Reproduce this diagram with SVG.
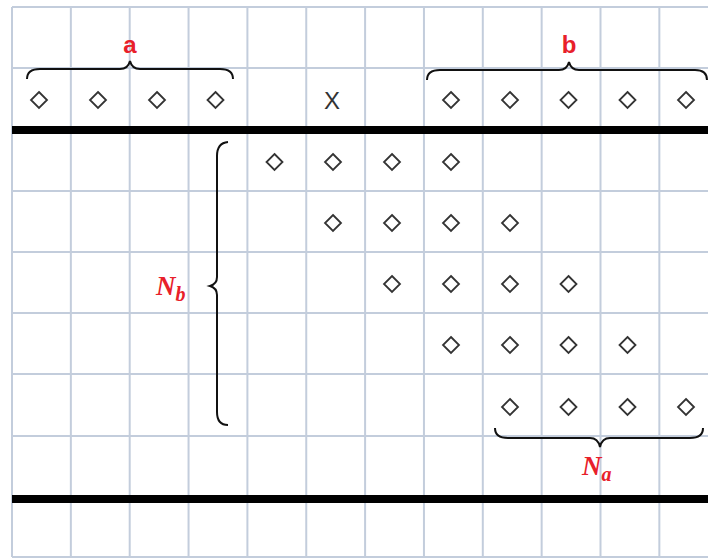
<svg xmlns="http://www.w3.org/2000/svg" width="708" height="559" viewBox="0 0 708 559">
<style>
.grid{stroke:#c3cddc;stroke-width:2;fill:none}
.thick{stroke:#000;stroke-width:8}
.brace{stroke:#111;stroke-width:2;fill:none}
.dia{stroke:#333;stroke-width:1.8;fill:none}
.lbl{fill:#e8202a;font-family:"Liberation Sans",Arial,sans-serif;font-weight:bold;font-size:24px;text-anchor:middle}
.math{fill:#e8202a;font-family:"Liberation Serif","Times New Roman",serif;font-weight:bold;font-style:italic}
.x{fill:#333;font-family:"Liberation Sans",Arial,sans-serif;font-size:24px;text-anchor:middle}
</style>
<defs>
<path id="d" class="dia" d="M0,-8 L8,0 L0,8 L-8,0 Z"/>
</defs>
<rect width="708" height="559" fill="#fff"/>
<g id="grid">
<path class="grid" d="M12,7V557M70.85,7V557M129.7,7V557M188.55,7V557M247.4,7V557M306.25,7V557M365.1,7V557M423.95,7V557M482.8,7V557M541.65,7V557M600.5,7V557M659.35,7V557"/>
<path class="grid" d="M12,7H708M12,68H708M12,191H708M12,252H708M12,313H708M12,374H708M12,436H708M12,557H708"/>
<path class="thick" d="M12,130H708M12,499H708"/>
</g>
<g id="row1">
<use href="#d" x="39" y="100"/><use href="#d" x="98" y="100"/><use href="#d" x="157" y="100"/><use href="#d" x="215.5" y="100"/>
<text class="x" x="332" y="109">X</text>
<use href="#d" x="451" y="100"/><use href="#d" x="510" y="100"/><use href="#d" x="568.5" y="100"/><use href="#d" x="627.5" y="100"/><use href="#d" x="686" y="100"/>
</g>
<g id="rows">
<use href="#d" x="274.5" y="162"/><use href="#d" x="333" y="162"/><use href="#d" x="392" y="162"/><use href="#d" x="451" y="162"/>
<use href="#d" x="333" y="223"/><use href="#d" x="392" y="223"/><use href="#d" x="451" y="223"/><use href="#d" x="510" y="223"/>
<use href="#d" x="392" y="284"/><use href="#d" x="451" y="284"/><use href="#d" x="510" y="284"/><use href="#d" x="568.5" y="284"/>
<use href="#d" x="451" y="345"/><use href="#d" x="510" y="345"/><use href="#d" x="568.5" y="345"/><use href="#d" x="627.5" y="345"/>
<use href="#d" x="510" y="407"/><use href="#d" x="568.5" y="407"/><use href="#d" x="627.5" y="407"/><use href="#d" x="686" y="407"/>
</g>
<g id="braces">
<path class="brace" d="M27,79 Q27,69 40,69 L120,69 Q128,69 130,61 Q132,69 140,69 L220,69 Q233,69 233,79"/>
<path class="brace" d="M427,80 Q427,70 440,70 L559,70 Q567,70 569,62 Q571,70 579,70 L695,70 Q707,70 707,80"/>
<path class="brace" d="M495,428 Q495,438 508,438 L590,438 Q598,438 600,447 Q602,438 610,438 L690,438 Q703,438 703,428"/>
<path class="brace" d="M228,142 Q217,143 217,156 L217,277 Q217,284 210,286 Q217,288 217,295 L217,412 Q217,425 228,425"/>
</g>
<g id="labels">
<text class="lbl" x="130" y="53">a</text>
<text class="lbl" x="569" y="53">b</text>
<text class="math" x="156" y="295" font-size="27">N<tspan font-size="20" dy="6">b</tspan></text>
<text class="math" x="582" y="475" font-size="27">N<tspan font-size="20" dy="6">a</tspan></text>
</g>
</svg>
